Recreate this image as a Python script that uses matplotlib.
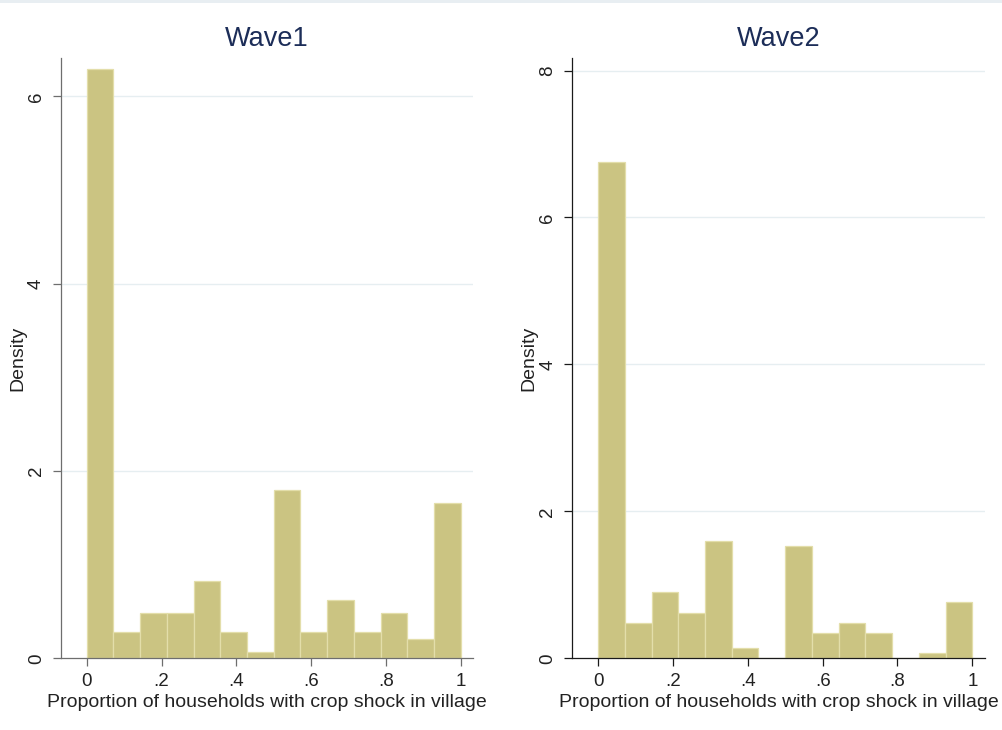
import numpy as np
import matplotlib
matplotlib.use("Agg")
import matplotlib.pyplot as plt
from matplotlib.patches import Rectangle

plt.rcParams["font.family"] = ["Liberation Sans", "DejaVu Sans"]

# Histogram of village crop-shock proportions, 14 equal-width bins on [0, 1]
n_bins = 14
bin_edges = np.linspace(0.0, 1.0, n_bins + 1)

wave1_density = [6.29, 0.278, 0.481, 0.481, 0.827, 0.278, 0.068,
                 1.793, 0.278, 0.620, 0.278, 0.481, 0.203, 1.658]
wave2_density = [6.76, 0.486, 0.900, 0.623, 1.590, 0.136, 0.0,
                 1.523, 0.350, 0.486, 0.350, 0.0, 0.068, 0.764]

x_ticks = [0, 0.2, 0.4, 0.6, 0.8, 1.0]
x_ticklabels = ["0", ".2", ".4", ".6", ".8", "1"]
wave1_yticks = [0, 2, 4, 6]
wave2_yticks = [0, 2, 4, 6, 8]

x_label = "Proportion of households with crop shock in village"
y_label = "Density"

bar_color = "#CBC482"
bar_edge = "#E3DEAA"
grid_color = "#E6EEF1"
title_color = "#1C2D58"
text_color = "#222222"

fig = plt.figure(figsize=(10.03, 7.30), dpi=100)
fig.patch.set_facecolor("white")
# thin band along the top edge
fig.add_artist(Rectangle((0, 1 - 2.5 / 730), 1, 2.5 / 730, transform=fig.transFigure,
                         facecolor="#E8EEF2", edgecolor="none"))

panels = [
    dict(rect=[0.0608, 0.0982, 0.4112, 0.8223], title="Wave1", data=wave1_density,
         yticks=wave1_yticks, ylim=(0, 6.41), spine="#6E6E6E"),
    dict(rect=[0.5706, 0.0982, 0.4115, 0.8223], title="Wave2", data=wave2_density,
         yticks=wave2_yticks, ylim=(0, 8.17), spine="#1A1A1A"),
]

for p in panels:
    ax = fig.add_axes(p["rect"])
    ax.bar(bin_edges[:-1], p["data"], width=np.diff(bin_edges), align="edge",
           color=bar_color, edgecolor=bar_edge, linewidth=0.9, zorder=2)
    ax.set_xlim(-0.069, 1.034)
    ax.set_ylim(*p["ylim"])
    ax.set_xticks(x_ticks)
    ax.set_xticklabels(x_ticklabels)
    ax.set_yticks(p["yticks"])
    ax.set_yticklabels([str(v) for v in p["yticks"]], rotation=90, va="center")
    for v in p["yticks"][1:]:
        ax.axhline(v, color=grid_color, linewidth=1.0, zorder=1)
    for side in ("top", "right"):
        ax.spines[side].set_visible(False)
    for side in ("left", "bottom"):
        ax.spines[side].set_color(p["spine"])
        ax.spines[side].set_linewidth(0.9)
    ax.tick_params(axis="both", length=5.5, width=0.9, color=p["spine"],
                   labelsize=13.5, labelcolor=text_color)
    ax.tick_params(axis="x", pad=5)
    ax.tick_params(axis="y", pad=6)
    ax.set_xlabel(x_label, fontsize=14, color=text_color, labelpad=3)
    ax.set_ylabel(y_label, fontsize=14, color=text_color, labelpad=1.5)
    ax.set_title(p["title"], fontsize=19.5, color=title_color, pad=9)

fig.savefig("out.png", dpi=100, facecolor="white")
